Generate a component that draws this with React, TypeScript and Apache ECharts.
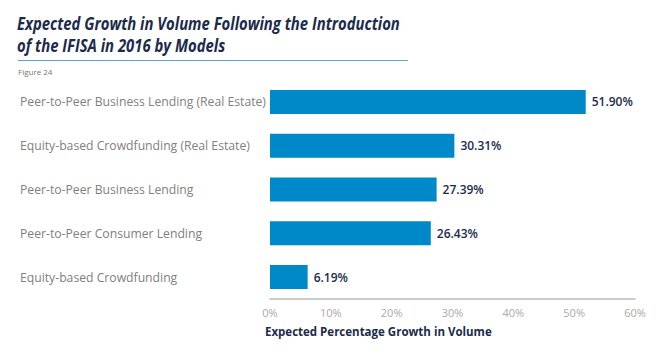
import React, { useEffect, useRef } from "react";
import * as echarts from "echarts";

const categories = [
  "Peer-to-Peer Business Lending (Real Estate)",
  "Equity-based Crowdfunding (Real Estate)",
  "Peer-to-Peer Business Lending",
  "Peer-to-Peer Consumer Lending",
  "Equity-based Crowdfunding",
];
const values = [51.9, 30.31, 27.39, 26.43, 6.19];
const titleText = "Expected Growth in Volume Following the Introduction\nof the IFISA in 2016 by Models";
const figureLabel = "Figure 24";
const axisTitle = "Expected Percentage Growth in Volume";

const NAVY = "#1b2b4b";
const FONT = "'Open Sans', sans-serif";

export default function App() {
  const ref = useRef<HTMLDivElement>(null);
  useEffect(() => {
    document.body.style.margin = "0";
    const chart = echarts.init(ref.current!, null, { renderer: "svg" });
    chart.setOption({
      animation: false,
      backgroundColor: "#ffffff",
      textStyle: { fontFamily: FONT },
      graphic: [
        {
          type: "text",
          x: 17,
          y: 12,
          scaleX: 0.825,
          style: {
            text: titleText,
            fontFamily: FONT,
            fontSize: 18,
            fontWeight: "bold",
            fontStyle: "italic",
            fill: NAVY,
            lineHeight: 22,
          },
        },
        {
          type: "line",
          shape: { x1: 18, y1: 60.5, x2: 408, y2: 60.5 },
          style: { stroke: "#5fa3d3", lineWidth: 1 },
        },
        {
          type: "text",
          x: 18,
          y: 67,
          style: { text: figureLabel, fontSize: 8, fill: "#777", fontFamily: FONT },
        },
        {
          type: "text",
          x: 265,
          y: 325,
          style: { text: axisTitle, fontSize: 11.5, fontWeight: "bold", fill: NAVY, fontFamily: FONT },
        },
      ],
      grid: { left: 270, right: 30, top: 80, bottom: 60, containLabel: false },
      xAxis: {
        type: "value",
        min: 0,
        max: 60,
        interval: 10,
        axisLine: { show: true, lineStyle: { color: "#bbbbbb", width: 1.5 } },
        axisTick: { show: false },
        splitLine: { show: false },
        axisLabel: {
          formatter: "{value}%",
          color: "#aaaaaa",
          fontSize: 11,
          fontFamily: FONT,
          margin: 8,
        },
      },
      yAxis: {
        type: "category",
        data: categories,
        inverse: true,
        axisLine: { show: false },
        axisTick: { show: false },
        axisLabel: {
          align: "left",
          margin: 250,
          color: "#808080",
          fontSize: 12.2,
          fontFamily: FONT,
        },
      },
      series: [
        {
          type: "bar",
          data: values,
          barWidth: 24,
          itemStyle: { color: "#0089c9" },
          label: {
            show: true,
            position: "right",
            distance: 6,
            formatter: (p: any) => p.value.toFixed(2) + "%",
            color: NAVY,
            fontSize: 12,
            fontWeight: 600,
            fontFamily: FONT,
          },
        },
      ],
    });
    return () => chart.dispose();
  }, []);
  return <div ref={ref} style={{ width: 665, height: 359 }} />;
}
